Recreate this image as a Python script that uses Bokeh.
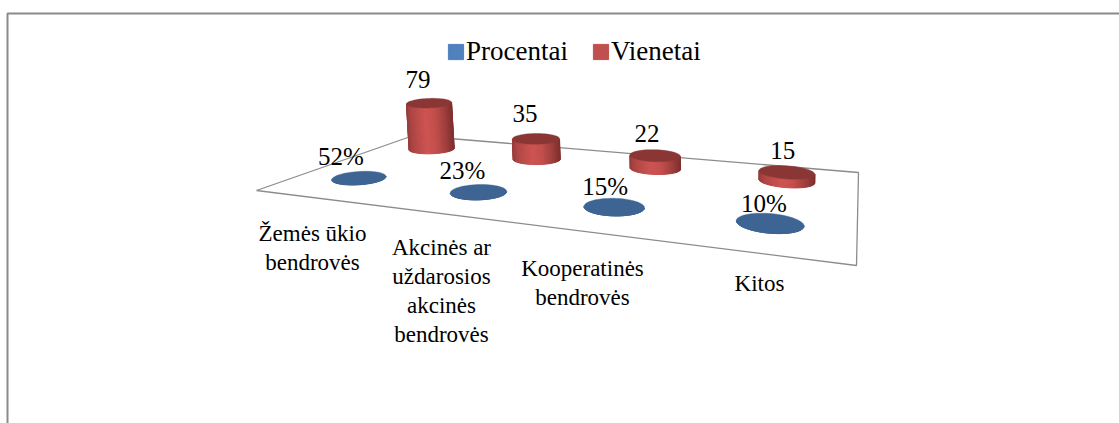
import numpy as np
from bokeh.core.properties import value
from bokeh.embed import file_html
from bokeh.models import Legend, LegendItem, Range1d
from bokeh.plotting import figure
from bokeh.resources import INLINE

# ---- data ----
categories = [["Žemės ūkio", "bendrovės"],
              ["Akcinės ar", "uždarosios", "akcinės", "bendrovės"],
              ["Kooperatinės", "bendrovės"],
              ["Kitos"]]
procentai = [0.52, 0.23, 0.15, 0.10]
vienetai = [79, 35, 22, 15]

# ---- layout / style ----
W, H = 1119, 423
FONT = value("Liberation Serif")
FLOOR = [(256, 190), (856, 265), (858, 172), (413, 135)]  # front-L, front-R, back-R, back-L
PX_PER_UNIT = 0.58
DISC_U, DISC_V = 0.05, 0.095
DEPTH = {"Procentai": 0.27, "Vienetai": 0.81}
NUDGE = {"Procentai": ([-3, -1, 0, 0], [0, 1, 1, 0]),
         "Vienetai": ([-6, -4, -1, 0], [1, 2, 1, 2])}
VAL_DX_P = [-18, -16, -9, -6]
VAL_DX_V = [-11, -11, -8, -4]
VAL_DY_P = [14, 15, 13, 13]
VAL_DY_V = [17, 18, 15, 15]
TEXT_SHIFT = -7
CAT_X = [312, 441, 582, 759]
CAT_Y = [240, 254, 275, 290]
CAT_LH = 29
BLUE = "#3D6493"
RED_TOP = "#8A3634"
GRAD_POS = [0.0, 0.12, 0.42, 0.62, 0.85, 1.0]
GRAD_R = [(0x96, 0x3C, 0x3A), (0xB0, 0x46, 0x44), (0xCE, 0x54, 0x52),
          (0xC4, 0x4F, 0x4D), (0x9E, 0x3E, 0x3C), (0x80, 0x30, 0x2E)]


def homography(q):
    src = [(0, 0), (1, 0), (1, 1), (0, 1)]
    A, b = [], []
    for (u, v), (x, y) in zip(src, q):
        A.append([u, v, 1, 0, 0, 0, -u * x, -v * x]); b.append(x)
        A.append([0, 0, 0, u, v, 1, -u * y, -v * y]); b.append(y)
    return np.append(np.linalg.solve(np.array(A, float), np.array(b, float)), 1).reshape(3, 3)


M = homography(FLOOR)


def project(u, v):
    w = M[2, 0] * u + M[2, 1] * v + M[2, 2]
    return (M[0, 0] * u + M[0, 1] * v + M[0, 2]) / w, (M[1, 0] * u + M[1, 1] * v + M[1, 2]) / w


def cylinder(i, series, val):
    uc, vc = (i + 0.5) / 4, DEPTH[series]
    t = np.linspace(0, 2 * np.pi, 61)[:-1]
    bx, by = project(uc + DISC_U * np.cos(t), vc + DISC_V * np.sin(t))
    bx, by = bx + NUDGE[series][0][i], by + NUDGE[series][1][i]
    h = val * PX_PER_UNIT
    lean = (bx.mean() - 730) * 0.00019 * h
    return bx, by, bx + lean, by - h


def shade(f):
    return "#%02x%02x%02x" % tuple(int(np.interp(f, GRAD_POS, [c[k] for c in GRAD_R])) for k in range(3))


def side_strips(bx, by, tx, ty, colorfn):
    n = len(bx)
    a, b = int(np.argmin(bx)), int(np.argmax(bx))
    arc1 = [(a + k) % n for k in range((b - a) % n + 1)]
    arc2 = [(b + k) % n for k in range((a - b) % n + 1)]
    arc = arc1 if by[arc1].mean() > by[arc2].mean() else arc2
    xs, ys, cs = [], [], []
    for p, q in zip(arc[:-1], arc[1:]):
        xs.append([bx[p], bx[q], tx[q], tx[p]])
        ys.append([by[p], by[q], ty[q], ty[p]])
        cs.append(colorfn((0.5 * (bx[p] + bx[q]) - bx[a]) / (bx[b] - bx[a])))
    return xs, ys, cs


p = figure(width=W, height=H, x_range=Range1d(0, W), y_range=Range1d(H, 0),
           toolbar_location=None, output_backend="svg", min_border=0,
           outline_line_color=None)
p.axis.visible = False
p.grid.visible = False

# chart frame (top and left edges are in view)
p.line([7, 7, W], [H, 13, 13], line_color="#8A8A8A", line_width=2)

# floor
fx = [c[0] for c in FLOOR] + [FLOOR[0][0]]
fy = [c[1] for c in FLOOR] + [FLOOR[0][1]]
p.line(fx, fy, line_color="#8C8C8C", line_width=1.3)

# cylinders, back series first
for name, vals, colorfn, top in [("Vienetai", vienetai, shade, RED_TOP),
                                 ("Procentai", procentai, lambda f: BLUE, BLUE)]:
    sx, sy, sc, dx, dy = [], [], [], [], []
    for i, v in enumerate(vals):
        bx, by, tx, ty = cylinder(i, name, v)
        xs, ys, cs = side_strips(bx, by, tx, ty, colorfn)
        sx += xs; sy += ys; sc += cs
        dx.append(list(tx)); dy.append(list(ty))
    p.patches(sx, sy, fill_color=sc, line_color=sc, line_width=1)
    p.patches(dx, dy, fill_color=top, line_color=top, line_width=0.4)

# value labels
for name, vals, labels, dxs, dys in [
        ("Procentai", procentai, [f"{round(v * 100)}%" for v in procentai], VAL_DX_P, VAL_DY_P),
        ("Vienetai", vienetai, [str(v) for v in vienetai], VAL_DX_V, VAL_DY_V)]:
    lx, ly = [], []
    for i, v in enumerate(vals):
        bx, by, tx, ty = cylinder(i, name, v)
        lx.append(tx.mean() + dxs[i])
        ly.append(ty.mean() - dys[i] + TEXT_SHIFT)
    p.text(lx, ly, text=labels, text_font=FONT, text_font_size="25px", text_color="#000000",
           text_align="center", text_baseline="alphabetic")

# category labels
cx, cy, ct = [], [], []
for i, lines in enumerate(categories):
    for k, t in enumerate(lines):
        cx.append(CAT_X[i]); cy.append(CAT_Y[i] + k * CAT_LH + TEXT_SHIFT); ct.append(t)
p.text(cx, cy, text=ct, text_font=FONT, text_font_size="23px", text_color="#000000",
       text_align="center", text_baseline="alphabetic")

# legend (swatch renderers sit outside the visible range)
r1 = p.quad(left=[-60], right=[-50], top=[-60], bottom=[-50], fill_color="#4F81BD", line_color="#4F81BD")
r2 = p.quad(left=[-60], right=[-50], top=[-60], bottom=[-50], fill_color="#C0504D", line_color="#C0504D")
legend = Legend(items=[LegendItem(label="Procentai", renderers=[r1]),
                       LegendItem(label="Vienetai", renderers=[r2])],
                orientation="horizontal", location=(446, H - 67),
                label_text_font="Liberation Serif", label_text_font_size="27px",
                label_text_color="#000000", glyph_width=19, glyph_height=19,
                label_standoff=1, spacing=23, padding=0, margin=0,
                border_line_color=None, background_fill_alpha=0)
p.add_layout(legend, "center")

open("out.html", "w").write(file_html(p, INLINE))
